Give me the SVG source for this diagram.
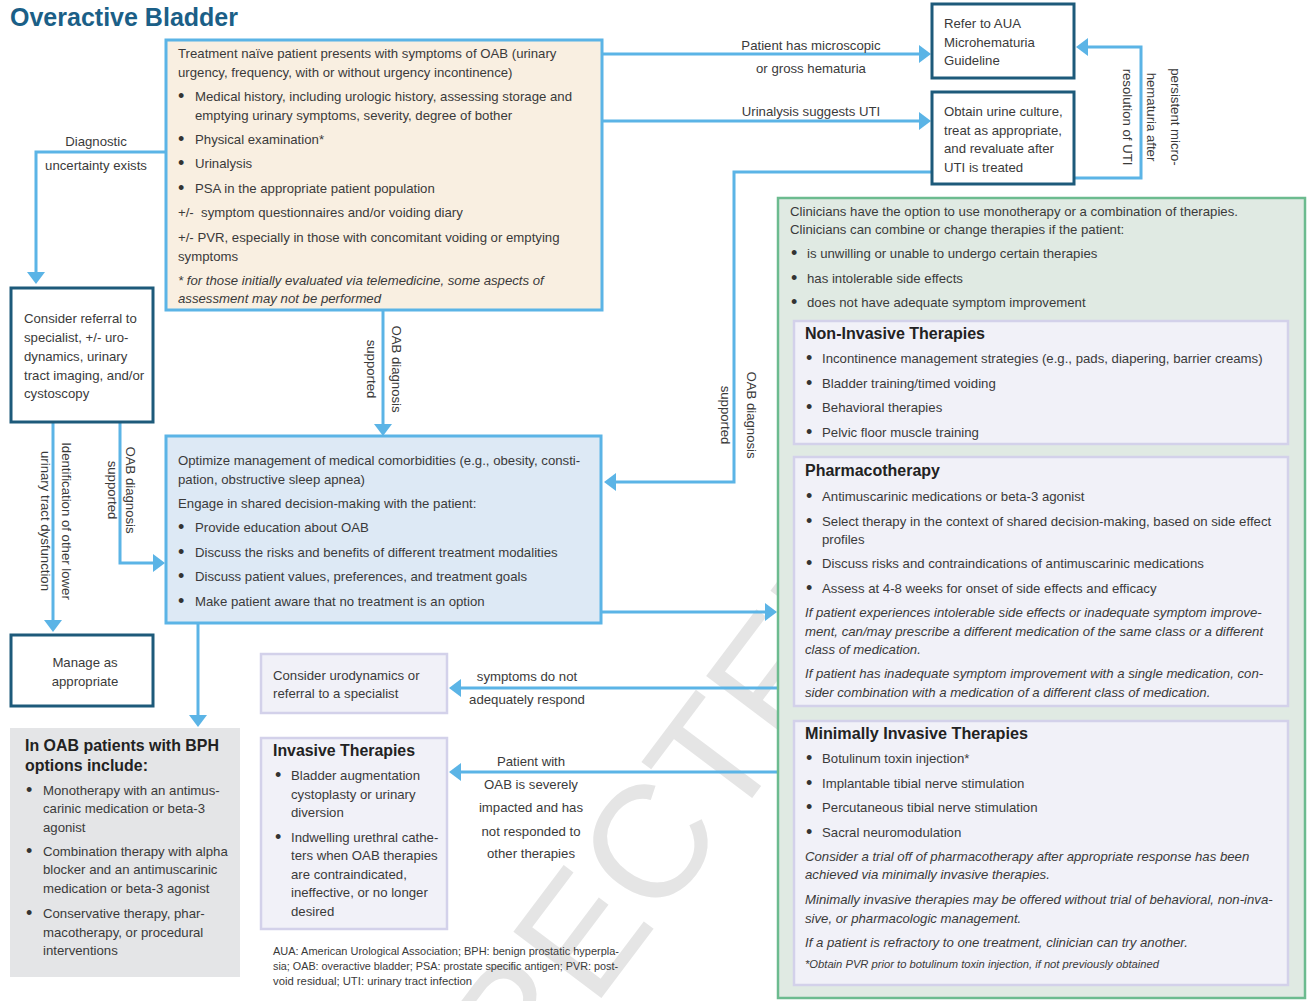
<svg xmlns="http://www.w3.org/2000/svg" width="1307" height="1001" viewBox="0 0 1307 1001">
  <defs>
    <marker id="ah" markerUnits="userSpaceOnUse" markerWidth="12" markerHeight="18" refX="2" refY="9" orient="auto">
      <path d="M0,0 L12,9 L0,18 z" fill="#5bb4e6"/>
    </marker>
    <style>
      text { font-family: "Liberation Sans", Arial, sans-serif; font-size: 13.2px; fill: #3a3a3a; }
      .i { font-style: italic; }
      .h { font-weight: bold; font-size: 16px; fill: #222; }
      .sm { font-size: 11.3px; }
      .mid { text-anchor: middle; }
      .b { font-size: 18px; fill: #333; }
      .conn path { fill: none; stroke: #5bb4e6; stroke-width: 3; marker-end: url(#ah); }
      .dark { fill: #fff; stroke: #1d5a7a; stroke-width: 3; }
      .sub { fill: #f1f1f8; stroke: #d3d1ea; stroke-width: 2.5; }
    </style>
  </defs>

  <rect width="1307" height="1001" fill="#fff"/>

  <!-- background stamp -->
  <text transform="translate(615,980) rotate(-53)" text-anchor="middle" style="font-size:160px;fill:#e5e5e5">CORRECTED</text>

  <text x="10" y="26" textLength="228" lengthAdjust="spacingAndGlyphs" style="font-size:26px;font-weight:bold;fill:#1b5f87">Overactive Bladder</text>

  <!-- connectors -->
  <g id="connectors" class="conn">
    <path d="M602,54 H921"/>
    <path d="M602,121 H921"/>
    <path d="M1074,178 H1141 V47 H1086"/>
    <path d="M932,172 H734 V482 H614"/>
    <path d="M383,310 V426"/>
    <path d="M166,152 H36 V274"/>
    <path d="M53,422 V622"/>
    <path d="M120,422 V563 H155"/>
    <path d="M602,612 H767"/>
    <path d="M198,623 V717"/>
    <path d="M778,688 H459"/>
    <path d="M778,772 H459"/>
  </g>

  <!-- connector labels -->
  <g id="labels">
    <text class="mid" x="811" y="50">Patient has microscopic</text>
    <text class="mid" x="811" y="73">or gross hematuria</text>
    <text class="mid" x="811" y="116">Urinalysis suggests UTI</text>
    <text class="mid" transform="translate(1171,117) rotate(90)">persistent micro-</text>
    <text class="mid" transform="translate(1147,117) rotate(90)">hematuria after</text>
    <text class="mid" transform="translate(1123,117) rotate(90)">resolution of UTI</text>
    <text class="mid" transform="translate(747,415) rotate(90)">OAB diagnosis</text>
    <text class="mid" transform="translate(721,415) rotate(90)">supported</text>
    <text class="mid" transform="translate(392,369) rotate(90)">OAB diagnosis</text>
    <text class="mid" transform="translate(367,369) rotate(90)">supported</text>
    <text class="mid" x="96" y="146">Diagnostic</text>
    <text class="mid" x="96" y="170">uncertainty exists</text>
    <text class="mid" transform="translate(62,521) rotate(90)">Identification of other lower</text>
    <text class="mid" transform="translate(40.5,521) rotate(90)">urinary tract dysfunction</text>
    <text class="mid" transform="translate(126,490) rotate(90)">OAB diagnosis</text>
    <text class="mid" transform="translate(108,490) rotate(90)">supported</text>
    <text class="mid" x="527" y="681">symptoms do not</text>
    <text class="mid" x="527" y="704">adequately respond</text>
    <text class="mid" x="531" y="766">Patient with</text>
    <text class="mid" x="531" y="789">OAB is severely</text>
    <text class="mid" x="531" y="812">impacted and has</text>
    <text class="mid" x="531" y="836">not responded to</text>
    <text class="mid" x="531" y="858">other therapies</text>
  </g>

  <!-- initial evaluation -->
  <g id="evaluation">
    <rect x="166" y="40" width="436" height="270" fill="#f9efe1" stroke="#5bb4e6" stroke-width="3"/>
    <text x="178" y="58">Treatment naïve patient presents with symptoms of OAB (urinary</text>
    <text x="178" y="77">urgency, frequency, with or without urgency incontinence)</text>
    <text class="b" x="178" y="102">•</text><text x="195" y="101">Medical history, including urologic history, assessing storage and</text>
    <text x="195" y="120">emptying urinary symptoms, severity, degree of bother</text>
    <text class="b" x="178" y="145">•</text><text x="195" y="144">Physical examination*</text>
    <text class="b" x="178" y="169">•</text><text x="195" y="168">Urinalysis</text>
    <text class="b" x="178" y="194">•</text><text x="195" y="193">PSA in the appropriate patient population</text>
    <text x="178" y="217" xml:space="preserve">+/-  symptom questionnaires and/or voiding diary</text>
    <text x="178" y="242">+/- PVR, especially in those with concomitant voiding or emptying</text>
    <text x="178" y="261">symptoms</text>
    <text class="i" x="178" y="285">* for those initially evaluated via telemedicine, some aspects of</text>
    <text class="i" x="178" y="303">assessment may not be performed</text>
  </g>

  <g id="microhematuria">
    <rect class="dark" x="932" y="4" width="142" height="74"/>
    <text x="944" y="28">Refer to AUA</text>
    <text x="944" y="47">Microhematuria</text>
    <text x="944" y="65">Guideline</text>
  </g>

  <g id="uti">
    <rect class="dark" x="932" y="92" width="142" height="92"/>
    <text x="944" y="116">Obtain urine culture,</text>
    <text x="944" y="135">treat as appropriate,</text>
    <text x="944" y="153">and revaluate after</text>
    <text x="944" y="172">UTI is treated</text>
  </g>

  <g id="referral">
    <rect class="dark" x="11" y="288" width="142" height="134"/>
    <text x="24" y="323">Consider referral to</text>
    <text x="24" y="342">specialist, +/- uro-</text>
    <text x="24" y="361">dynamics, urinary</text>
    <text x="24" y="380">tract imaging, and/or</text>
    <text x="24" y="398">cystoscopy</text>
  </g>

  <g id="manage">
    <rect class="dark" x="11" y="635" width="142" height="71"/>
    <text class="mid" x="85" y="667">Manage as</text>
    <text class="mid" x="85" y="686">appropriate</text>
  </g>

  <g id="shared-decision">
    <rect x="166" y="436" width="435" height="187" fill="#dde9f5" stroke="#5bb4e6" stroke-width="3"/>
    <text x="178" y="465">Optimize management of medical comorbidities (e.g., obesity, consti-</text>
    <text x="178" y="484">pation, obstructive sleep apnea)</text>
    <text x="178" y="508">Engage in shared decision-making with the patient:</text>
    <text class="b" x="178" y="533">•</text><text x="195" y="532">Provide education about OAB</text>
    <text class="b" x="178" y="558">•</text><text x="195" y="557">Discuss the risks and benefits of different treatment modalities</text>
    <text class="b" x="178" y="582">•</text><text x="195" y="581">Discuss patient values, preferences, and treatment goals</text>
    <text class="b" x="178" y="607">•</text><text x="195" y="606">Make patient aware that no treatment is an option</text>
  </g>

  <g id="bph">
    <rect x="10" y="728" width="230" height="249" fill="#e4e5e7"/>
    <text class="h" x="25" y="751" textLength="194" lengthAdjust="spacingAndGlyphs" style="font-size:16.5px">In OAB patients with BPH</text>
    <text class="h" x="25" y="771" textLength="123" lengthAdjust="spacingAndGlyphs" style="font-size:16.5px">options include:</text>
    <text class="b" x="26" y="796">•</text><text x="43" y="795">Monotherapy with an antimus-</text>
    <text x="43" y="813">carinic medication or beta-3</text>
    <text x="43" y="832">agonist</text>
    <text class="b" x="26" y="857">•</text><text x="43" y="856">Combination therapy with alpha</text>
    <text x="43" y="874">blocker and an antimuscarinic</text>
    <text x="43" y="893">medication or beta-3 agonist</text>
    <text class="b" x="26" y="919">•</text><text x="43" y="918">Conservative therapy, phar-</text>
    <text x="43" y="937">macotherapy, or procedural</text>
    <text x="43" y="955">interventions</text>
  </g>

  <g id="urodynamics">
    <rect class="sub" x="261" y="654" width="186" height="59"/>
    <text x="273" y="680">Consider urodynamics or</text>
    <text x="273" y="698">referral to a specialist</text>
  </g>

  <g id="invasive">
    <rect class="sub" x="261" y="738" width="186" height="191"/>
    <text class="h" x="273" y="756" textLength="142" lengthAdjust="spacingAndGlyphs">Invasive Therapies</text>
    <text class="b" x="275" y="781">•</text><text x="291" y="780">Bladder augmentation</text>
    <text x="291" y="799">cystoplasty or urinary</text>
    <text x="291" y="817">diversion</text>
    <text class="b" x="275" y="843">•</text><text x="291" y="842">Indwelling urethral cathe-</text>
    <text x="291" y="860">ters when OAB therapies</text>
    <text x="291" y="879">are contraindicated,</text>
    <text x="291" y="897">ineffective, or no longer</text>
    <text x="291" y="916">desired</text>
  </g>

  <g id="footnote">
    <text class="sm" x="273" y="955" textLength="346" lengthAdjust="spacingAndGlyphs">AUA: American Urological Association; BPH: benign prostatic hyperpla-</text>
    <text class="sm" x="273" y="970" textLength="345" lengthAdjust="spacingAndGlyphs">sia; OAB: overactive bladder; PSA: prostate specific antigen; PVR: post-</text>
    <text class="sm" x="273" y="985">void residual; UTI: urinary tract infection</text>
  </g>

  <!-- therapy options -->
  <g id="therapies">
    <rect x="778" y="198" width="527" height="800" fill="#e0eae3" stroke="#6cbb8f" stroke-width="2.5"/>
    <text x="790" y="216">Clinicians have the option to use monotherapy or a combination of therapies.</text>
    <text x="790" y="234">Clinicians can combine or change therapies if the patient:</text>
    <text class="b" x="791" y="259">•</text><text x="807" y="258">is unwilling or unable to undergo certain therapies</text>
    <text class="b" x="791" y="284">•</text><text x="807" y="283">has intolerable side effects</text>
    <text class="b" x="791" y="308">•</text><text x="807" y="307">does not have adequate symptom improvement</text>
  </g>

  <g id="non-invasive">
    <rect class="sub" x="794" y="321" width="494" height="123"/>
    <text class="h" x="805" y="339" textLength="180" lengthAdjust="spacingAndGlyphs">Non-Invasive Therapies</text>
    <text class="b" x="806" y="364">•</text><text x="822" y="363">Incontinence management strategies (e.g., pads, diapering, barrier creams)</text>
    <text class="b" x="806" y="389">•</text><text x="822" y="388">Bladder training/timed voiding</text>
    <text class="b" x="806" y="413">•</text><text x="822" y="412">Behavioral therapies</text>
    <text class="b" x="806" y="438">•</text><text x="822" y="437">Pelvic floor muscle training</text>
  </g>

  <g id="pharmacotherapy">
    <rect class="sub" x="794" y="457" width="494" height="249"/>
    <text class="h" x="805" y="476" textLength="135" lengthAdjust="spacingAndGlyphs">Pharmacotherapy</text>
    <text class="b" x="806" y="502">•</text><text x="822" y="501">Antimuscarinic medications or beta-3 agonist</text>
    <text class="b" x="806" y="527">•</text><text x="822" y="526">Select therapy in the context of shared decision-making, based on side effect</text>
    <text x="822" y="544">profiles</text>
    <text class="b" x="806" y="569">•</text><text x="822" y="568">Discuss risks and contraindications of antimuscarinic medications</text>
    <text class="b" x="806" y="594">•</text><text x="822" y="593">Assess at 4-8 weeks for onset of side effects and efficacy</text>
    <text class="i" x="805" y="617">If patient experiences intolerable side effects or inadequate symptom improve-</text>
    <text class="i" x="805" y="636">ment, can/may prescribe a different medication of the same class or a different</text>
    <text class="i" x="805" y="654">class of medication.</text>
    <text class="i" x="805" y="678">If patient has inadequate symptom improvement with a single medication, con-</text>
    <text class="i" x="805" y="697">sider combination with a medication of a different class of medication.</text>
  </g>

  <g id="minimally-invasive">
    <rect class="sub" x="794" y="721" width="494" height="264"/>
    <text class="h" x="805" y="739" textLength="223" lengthAdjust="spacingAndGlyphs">Minimally Invasive Therapies</text>
    <text class="b" x="806" y="764">•</text><text x="822" y="763">Botulinum toxin injection*</text>
    <text class="b" x="806" y="789">•</text><text x="822" y="788">Implantable tibial nerve stimulation</text>
    <text class="b" x="806" y="813">•</text><text x="822" y="812">Percutaneous tibial nerve stimulation</text>
    <text class="b" x="806" y="838">•</text><text x="822" y="837">Sacral neuromodulation</text>
    <text class="i" x="805" y="861">Consider a trial off of pharmacotherapy after appropriate response has been</text>
    <text class="i" x="805" y="879">achieved via minimally invasive therapies.</text>
    <text class="i" x="805" y="904">Minimally invasive therapies may be offered without trial of behavioral, non-inva-</text>
    <text class="i" x="805" y="923">sive, or pharmacologic management.</text>
    <text class="i" x="805" y="947">If a patient is refractory to one treatment, clinician can try another.</text>
    <text class="i sm" x="805" y="968" textLength="354" lengthAdjust="spacingAndGlyphs">*Obtain PVR prior to botulinum toxin injection, if not previously obtained</text>
  </g>
</svg>
